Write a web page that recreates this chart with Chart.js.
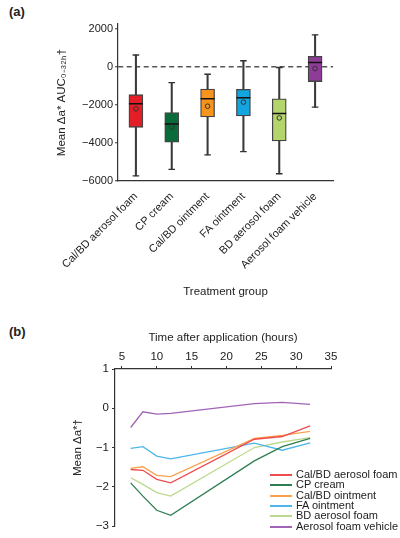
<!DOCTYPE html>
<html>
<head>
<meta charset="utf-8">
<script src="https://cdn.jsdelivr.net/npm/chart.js@4.4.1/dist/chart.umd.min.js"></script>
<style>
body { margin: 0; background: #fff; font-family: "Liberation Sans", Arial, sans-serif; color: #222; }
#wrap { position: relative; width: 400px; height: 538px; overflow: hidden; }
.panel { position: absolute; left: 0; width: 400px; }
.tag { position: absolute; left: 9px; font-weight: bold; font-size: 13px; }
#legend { position: absolute; left: 270px; top: 469px; width: 130px; height: 66px; font-size: 11px; }
#legend .row { position: absolute; left: 0; height: 11px; line-height: 11px; white-space: nowrap; }
#legend .sw { position: absolute; left: 0; top: 5px; width: 22px; height: 2px; }
#legend .txt { position: absolute; left: 26px; top: 0; }
</style>
</head>
<body>
<div id="wrap">
  <div class="tag" style="top:4px">(a)</div>
  <div class="panel" style="top:0;height:300px"><canvas id="chartBox"></canvas></div>
  <div class="tag" style="top:324px">(b)</div>
  <div class="panel" style="top:310px;height:228px"><canvas id="chartTime"></canvas></div>
  <div id="legend"></div>
</div>
<script>
// panel (a): box plot values
const groups = ['Cal/BD aerosol foam', 'CP cream', 'Cal/BD ointment', 'FA ointment', 'BD aerosol foam', 'Aerosol foam vehicle'];
const whiskerLow = [-5730, -5390, -4630, -4455, -5620, -2120];
const boxLow = [-3180, -3960, -2630, -2580, -3890, -775];
const medians = [-1940, -3005, -1680, -1625, -2455, 230];
const boxHigh = [-1465, -2400, -1165, -1180, -1680, 550];
const whiskerHigh = [620, -830, -390, 320, -35, 1680];
const means = [-2210, -3160, -2070, -1855, -2685, -90];
const boxColors = ['#e31e26', '#0a6b3a', '#f7941d', '#12a5e0', '#b4d56b', '#8e3c97'];
const aTicks = [-6000, -4000, -2000, 0, 2000];

// panel (b): mean change over time
const hours = [6.25, 8, 10, 12, 24, 28, 32];
const hourTicks = [5, 10, 15, 20, 25, 30, 35];
const bTicks = [-3, -2, -1, 0, 1];
const calbdFoam = [-1.56, -1.58, -1.81, -1.90, -0.79, -0.72, -0.45];
const cpCream = [-1.90, -2.24, -2.60, -2.73, -1.34, -0.98, -0.77];
const calbdOint = [-1.53, -1.49, -1.71, -1.74, -0.77, -0.69, -0.59];
const faOint = [-1.02, -0.98, -1.22, -1.29, -0.89, -1.07, -0.88];
const bdFoam = [-1.77, -1.94, -2.15, -2.24, -1.00, -0.86, -0.75];
const vehicle = [-0.49, -0.09, -0.15, -0.13, 0.12, 0.15, 0.10];
const lineColors = ['#ee4b4f', '#2f7d52', '#f9a24b', '#4db6e8', '#bcd98d', '#a264b5'];

Chart.defaults.font.family = '"Liberation Sans", Arial, sans-serif';
Chart.defaults.color = '#222';
Chart.defaults.animation = false;

const minus = v => String(v).replace('-', '\u2212');

const ctxBox = document.getElementById('chartBox').getContext('2d');
const chartBox = new Chart(ctxBox, {
    type: 'bar',
    data: {
        labels: groups,
        datasets: [
            {
                type: 'line', label: 'mean', data: means, showLine: false, order: 0,
                pointStyle: 'circle', pointRadius: 2.3, pointBorderWidth: 1,
                pointBorderColor: '#333', pointBackgroundColor: 'rgba(0,0,0,0)'
            },
            {
                type: 'line', label: 'median', data: medians, showLine: false, order: 1,
                pointStyle: 'line', pointRadius: 7, pointBorderWidth: 1.5, pointBorderColor: '#111'
            },
            {
                label: 'box', data: groups.map((g, i) => [boxLow[i], boxHigh[i]]), order: 2,
                grouped: false, barThickness: 14, backgroundColor: boxColors,
                borderColor: '#444', borderWidth: 1.3, borderSkipped: false
            },
            {
                type: 'line', label: 'cap low', data: whiskerLow, showLine: false, order: 3,
                pointStyle: 'line', pointRadius: 3.3, pointBorderWidth: 1.3, pointBorderColor: '#333'
            },
            {
                type: 'line', label: 'cap high', data: whiskerHigh, showLine: false, order: 3,
                pointStyle: 'line', pointRadius: 3.3, pointBorderWidth: 1.3, pointBorderColor: '#333'
            },
            {
                label: 'whisker', data: groups.map((g, i) => [whiskerLow[i], whiskerHigh[i]]), order: 4,
                grouped: false, barThickness: 1.4, backgroundColor: '#3a3a3a', borderWidth: 0
            }
        ]
    },
    options: {
        responsive: true,
        maintainAspectRatio: false,
        layout: { padding: { top: 24, right: 67, left: 0, bottom: 0 } },
        plugins: { legend: { display: false }, tooltip: { enabled: false } },
        scales: {
            x: {
                grid: { display: false },
                border: { color: '#333', width: 1.2 },
                ticks: { autoSkip: false, minRotation: 45, maxRotation: 45, padding: 1, font: { size: 11 } },
                title: { display: true, text: 'Treatment group', font: { size: 11.5 }, padding: { top: 2, bottom: 1 } },
                afterFit: s => { s.height = 119; }
            },
            y: {
                min: -6000,
                max: 2250,
                afterBuildTicks: s => { s.ticks = aTicks.map(v => ({ value: v })); },
                afterFit: s => { s.width = 118; },
                border: { color: '#333', width: 1.2, dash: [5, 3.5] },
                grid: {
                    color: c => (c.tick && c.tick.value === 0) ? '#555' : 'rgba(0,0,0,0)',
                    lineWidth: 1.5, tickLength: 3, tickColor: '#333', tickWidth: 1
                },
                ticks: { padding: 2, font: { size: 11 }, callback: v => minus(v) },
                title: { display: true, text: 'Mean \u0394a* AUC\u2080\u208B\u2083\u2082\u2095\u2020', font: { size: 11.5 }, padding: { top: 55, bottom: 0 } }
            }
        }
    }
});

const series = [calbdFoam, cpCream, calbdOint, faOint, bdFoam, vehicle];

const ctxTime = document.getElementById('chartTime').getContext('2d');
const chartTime = new Chart(ctxTime, {
    type: 'line',
    data: {
        datasets: series.map((vals, k) => ({
            label: groups[k],
            data: hours.map((h, i) => ({ x: h, y: vals[i] })),
            borderColor: lineColors[k],
            borderWidth: 1.3,
            pointRadius: 0,
            fill: false,
            tension: 0
        }))
    },
    options: {
        responsive: true,
        maintainAspectRatio: false,
        layout: { padding: { top: 0, right: 69, left: 0, bottom: 12 } },
        plugins: { legend: { display: false }, tooltip: { enabled: false } },
        scales: {
            x: {
                type: 'linear',
                position: 'top',
                min: 4,
                max: 35,
                afterBuildTicks: s => { s.ticks = hourTicks.map(v => ({ value: v })); },
                afterFit: s => { s.height = 59; },
                border: { color: '#333', width: 1.2 },
                grid: { drawOnChartArea: false, tickLength: 3, color: '#333', tickWidth: 1 },
                ticks: { padding: 2, font: { size: 11.5 }, maxRotation: 0 },
                title: { display: true, text: 'Time after application (hours)', font: { size: 11.5 }, padding: { top: 21, bottom: 0 } }
            },
            y: {
                min: -3,
                max: 1,
                afterBuildTicks: s => { s.ticks = bTicks.map(v => ({ value: v })); },
                afterFit: s => { s.width = 115; },
                border: { color: '#333', width: 1.2 },
                grid: { drawOnChartArea: false, tickLength: 3, color: '#333', tickWidth: 1 },
                ticks: { padding: 3, font: { size: 11.5 }, callback: v => minus(v) },
                title: { display: true, text: 'Mean \u0394a*\u2020', font: { size: 11.5 }, padding: { top: 71, bottom: 0 } }
            }
        }
    }
});

// legend for panel (b), built from the same names and colours
const legendEl = document.getElementById('legend');
groups.forEach((g, k) => {
    const row = document.createElement('div');
    row.className = 'row';
    row.style.top = Math.round(k * 10.3) + 'px';
    const sw = document.createElement('span');
    sw.className = 'sw';
    sw.style.backgroundColor = lineColors[k];
    const txt = document.createElement('span');
    txt.className = 'txt';
    txt.textContent = g;
    row.appendChild(sw);
    row.appendChild(txt);
    legendEl.appendChild(row);
});
</script>
</body>
</html>
